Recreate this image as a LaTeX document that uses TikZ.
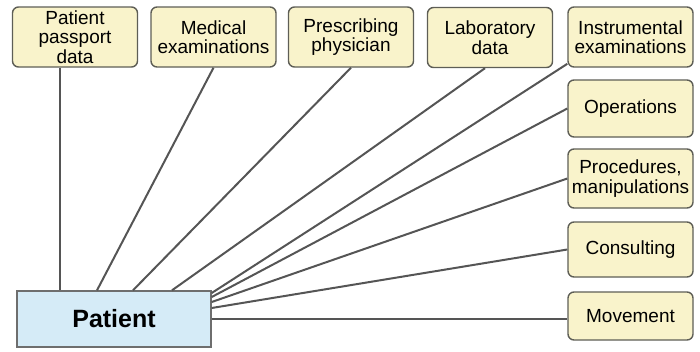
\documentclass[tikz,border=0pt]{standalone}
\usepackage{fontspec}
\setmainfont{Liberation Sans}
\usepackage{tikz}
\usetikzlibrary{shapes,arrows,positioning,calc}

\definecolor{boxfill}{HTML}{F9F3CB}
\definecolor{boxline}{HTML}{5E5E56}
\definecolor{patfill}{HTML}{D5EBF7}
\definecolor{patline}{HTML}{6E6E6E}
\definecolor{linkgray}{HTML}{555555}
\newcommand{\infofont}{\fontsize{19}{19.5}\selectfont}
\newcommand{\patfont}{\fontsize{25}{28}\selectfont\bfseries}

\begin{document}
\begin{tikzpicture}[
    x=1pt, y=-1pt,
    info/.style={rectangle, rounded corners=6pt, draw=boxline, line width=1.4pt, fill=boxfill, minimum width=125pt, minimum height=60pt, inner sep=0pt, align=center, font=\infofont},
    patientbox/.style={rectangle, draw=patline, line width=1.4pt, fill=patfill, minimum width=194pt, minimum height=56pt, inner sep=0pt, font=\patfont},
    link/.style={draw=linkgray, line width=2pt}
]
\useasboundingbox (0,0) rectangle (700,351);

% Top row
\node[info] (passport) at (75, 37) {Patient\\passport\\data};
\node[info] (medical) at (213.5, 37) {Medical\\examinations};
\node[info] (prescribing) at (351, 37) {Prescribing\\physician};
\node[info] (lab) at (490, 37.5) {Laboratory\\data};
\node[info] (instrumental) at (630.5, 37) {Instrumental\\examinations};

% Right column
\node[info, minimum height=57pt] (operations) at (630.5, 108.5) {Operations};
\node[info, minimum height=59pt] (procedures) at (630.5, 178.5) {Procedures,\\manipulations};
\node[info, minimum height=55pt] (consulting) at (630.5, 249.5) {Consulting};
\node[info, minimum height=48pt] (movement) at (630.5, 316) {Movement};

% Patient
\node[patientbox] (patient) at (114, 319) {Patient};

% Links to the top
\draw[link] ([xshift=-15pt]passport.south) -- ([xshift=-15pt]passport.south |- patient.north);
\draw[link] (medical.south) -- ([xshift=-17pt]patient.north);
\draw[link] (prescribing.south) -- ([xshift=19pt]patient.north);
\draw[link] ([xshift=-5pt]lab.south) -- ([xshift=58pt]patient.north);

% Links to the right
\draw[link] (instrumental.203) -- ([yshift=26pt]patient.east);
\draw[link] (operations.west) -- ([yshift=22pt]patient.east);
\draw[link] (procedures.west) -- ([yshift=17pt]patient.east);
\draw[link] (consulting.west) -- ([yshift=11pt]patient.east);
\draw[link] (patient.east) -- (patient.east -| movement.west);

\end{tikzpicture}
\end{document}
